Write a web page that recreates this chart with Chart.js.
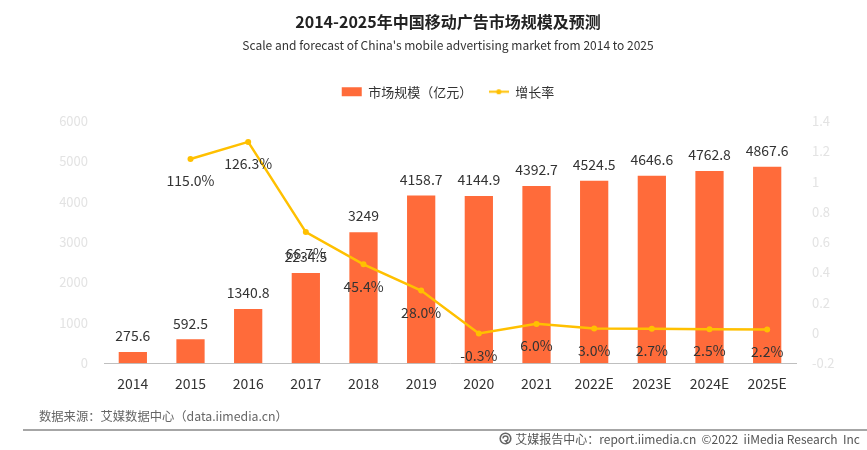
<!DOCTYPE html>
<html><head><meta charset="utf-8">
<script src="https://cdn.jsdelivr.net/npm/chart.js@4"></script>
<style>
html,body{margin:0;padding:0;background:#fff;}
#wrap{position:relative;width:867px;height:450px;overflow:hidden;font-family:"Noto Sans CJK SC",sans-serif;}
canvas{position:absolute;left:0;top:0;}
.src{position:absolute;left:39px;top:407px;font-size:12.3px;color:#666;line-height:18px;white-space:nowrap;}
.rule{position:absolute;left:23px;right:0;top:429px;height:2px;background:#a6a6a6;}
.brand{position:absolute;right:7px;top:430px;font-size:12px;color:#555;line-height:17px;white-space:nowrap;display:flex;align-items:center;}
.brand svg{margin-right:3px;}
</style></head>
<body><div id="wrap"><canvas id="c" width="867" height="450"></canvas>
<div class="src">数据来源：艾媒数据中心（data.iimedia.cn）</div>
<div class="rule"></div>
<div class="brand"><svg width="13" height="13" viewBox="0 0 13 13"><circle cx="6.5" cy="6.5" r="5.3" fill="none" stroke="#666" stroke-width="1.6"/><path d="M4 6.5 A2.5 2.5 0 1 1 6.5 9 L9 11.5" fill="none" stroke="#666" stroke-width="1.4"/></svg>艾媒报告中心：report.iimedia.cn&nbsp;&nbsp;©2022&nbsp;&nbsp;iiMedia Research&nbsp;&nbsp;Inc</div>
</div>
<script>
const categories = ['2014','2015','2016','2017','2018','2019','2020','2021','2022E','2023E','2024E','2025E'];
const marketSize = [275.6, 592.5, 1340.8, 2234.5, 3249, 4158.7, 4144.9, 4392.7, 4524.5, 4646.6, 4762.8, 4867.6];
const growthRate = [null, 1.150, 1.263, 0.667, 0.454, 0.280, -0.003, 0.060, 0.030, 0.027, 0.025, 0.022];
const leftTicks = [0, 1000, 2000, 3000, 4000, 5000, 6000];
const rightTicks = [-0.2, 0, 0.2, 0.4, 0.6, 0.8, 1, 1.2, 1.4];

const barColor = '#FF6B3A';
const lineColor = '#FFC000';
const FONT = '"Noto Sans CJK SC", "Noto Sans", sans-serif';

Chart.defaults.font.family = FONT;
Chart.defaults.color = '#333';

function makeLineIcon(){
  const c = document.createElement('canvas'); c.width = 20; c.height = 9;
  const x = c.getContext('2d');
  x.strokeStyle = lineColor; x.lineWidth = 2;
  x.beginPath(); x.moveTo(0,4.5); x.lineTo(20,4.5); x.stroke();
  x.fillStyle = lineColor; x.beginPath(); x.arc(10,4.5,2.6,0,Math.PI*2); x.fill();
  return c;
}
const lineIcon = makeLineIcon();

// empty layout box between legend and plot area
const legendSpacer = {
  id: 'legendSpacer',
  beforeInit(chart){
    const box = {
      position: 'top', weight: 100, fullSize: true,
      options: { stackWeight: 1 },
      isHorizontal(){ return true; },
      update(maxWidth){ this.width = maxWidth; this.height = 13; },
      draw(){}
    };
    Chart.layouts.addBox(chart, box);
  }
};

const valueLabels = {
  id: 'valueLabels',
  afterDatasetsDraw(chart){
    const ctx = chart.ctx;
    ctx.save();
    ctx.font = '14px ' + FONT;
    ctx.fillStyle = '#333';
    ctx.textAlign = 'center';
    ctx.textBaseline = 'middle';
    chart.getDatasetMeta(0).data.forEach((bar, i) => {
      ctx.fillText(String(marketSize[i]), bar.x, bar.y - 16);
    });
    chart.getDatasetMeta(1).data.forEach((pt, i) => {
      if (growthRate[i] == null) return;
      ctx.fillText((growthRate[i] * 100).toFixed(1) + '%', pt.x, pt.y + 22);
    });
    ctx.restore();
  }
};

new Chart(document.getElementById('c'), {
  data: {
    labels: categories,
    datasets: [
      { type: 'bar', label: '市场规模（亿元）', data: marketSize, backgroundColor: barColor, borderWidth: 0,
        yAxisID: 'y', order: 2, categoryPercentage: 1, barPercentage: 0.49 },
      { type: 'line', label: '增长率', data: growthRate, borderColor: lineColor, backgroundColor: lineColor,
        borderWidth: 2.5, pointRadius: 3, pointBackgroundColor: lineColor, pointBorderWidth: 0,
        tension: 0, yAxisID: 'y1', order: 1 }
    ]
  },
  options: {
    responsive: false,
    animation: false,
    devicePixelRatio: 1,
    layout: { padding: { top: 0, left: 29, right: 0, bottom: 46 } },
    plugins: {
      title: { display: true, text: '2014-2025年中国移动广告市场规模及预测', color: '#222',
        font: { size: 16, weight: 'bold', lineHeight: 1.2 }, padding: { top: 12, bottom: 6.4 } },
      subtitle: { display: true, text: "Scale and forecast of China's mobile advertising market from 2014 to 2025",
        color: '#333', font: { size: 12, lineHeight: 1.2 }, padding: { top: 0.6, bottom: 16.1 } },
      legend: {
        position: 'top',
        labels: {
          usePointStyle: true, pointStyleWidth: 20, boxHeight: 9, padding: 16.5,
          color: '#333', font: { size: 13 },
          sort: (a, b) => a.datasetIndex - b.datasetIndex,
          generateLabels(chart){
            const items = Chart.defaults.plugins.legend.labels.generateLabels(chart);
            items.forEach(it => {
              if (it.datasetIndex === 0) { it.pointStyle = 'rect'; it.lineWidth = 0; }
              else { it.pointStyle = lineIcon; }
            });
            return items;
          }
        }
      },
      tooltip: { enabled: false }
    },
    scales: {
      x: {
        grid: { display: false, drawTicks: false },
        border: { display: true, color: '#bfbfbf', width: 1 },
        ticks: { color: '#333', font: { size: 14 }, padding: 12 }
      },
      y: {
        position: 'left', min: 0, max: 6000,
        afterBuildTicks: s => { s.ticks = leftTicks.map(v => ({ value: v })); },
        afterFit: s => { s.width = 75; },
        grid: { display: false, drawTicks: false },
        border: { display: false },
        ticks: { color: '#e3e3e3', font: { size: 13 }, padding: 16, callback: v => String(v) }
      },
      y1: {
        position: 'right', min: -0.2, max: 1.4,
        afterBuildTicks: s => { s.ticks = rightTicks.map(v => ({ value: v })); },
        afterFit: s => { s.width = 71; },
        grid: { display: false, drawTicks: false },
        border: { display: false },
        ticks: { color: '#e3e3e3', font: { size: 13 }, padding: 16,
          callback: v => String(Number(v.toFixed(1))) }
      }
    }
  },
  plugins: [legendSpacer, valueLabels]
});
</script>
</body></html>
